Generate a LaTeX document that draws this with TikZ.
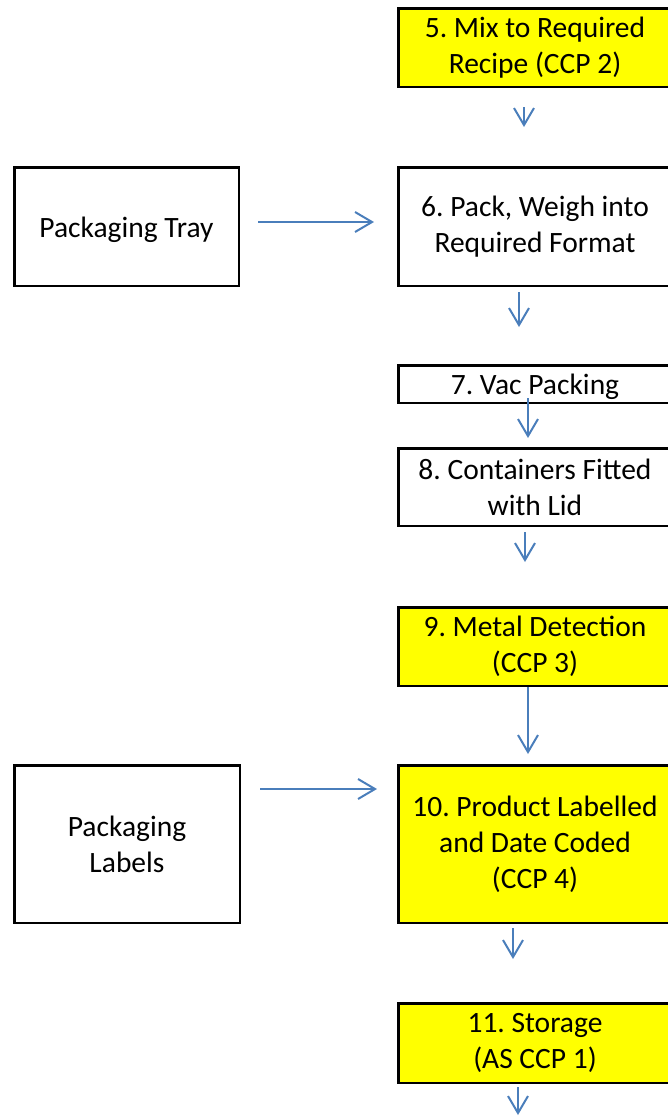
\documentclass[tikz,border=0pt]{standalone}
\usepackage{fontspec}
\setmainfont{Carlito}
\frenchspacing
\usetikzlibrary{arrows.meta}
\definecolor{arrblue}{HTML}{4A7EBB}
\definecolor{boxyellow}{HTML}{FFFF00}
\tikzset{
  box/.style={draw=black, line width=2.5pt, align=center, inner sep=0pt,
    font=\fontsize{29.5}{36}\selectfont,
    execute at begin node={\rule{0pt}{27pt}}},
  ybox/.style={box, fill=boxyellow},
  wbox/.style={box, fill=white},
  arr/.style={draw=arrblue, line width=2pt,
    -{Straight Barb[length=17pt,width=20pt,line width=2pt]}}
}
\begin{document}
\begin{tikzpicture}[x=1pt,y=-1pt]
\useasboundingbox (0,0) rectangle (668,1117);
\node[ybox, minimum width=273.5pt, minimum height=78.5pt] (n5) at (535,47.5) {5. Mix to Required\\Recipe (CCP 2)};
\node[wbox, minimum width=273.5pt, minimum height=118.5pt] (n6) at (535,226.5) {6. Pack, Weigh into\\Required Format};
\node[wbox, minimum width=224.5pt, minimum height=118.5pt] (tray) at (126.5,226.5) {Packaging Tray};
\node[wbox, minimum width=273.5pt, minimum height=37.5pt] (n7) at (535,384) {7. Vac Packing};
\node[wbox, minimum width=273.5pt, minimum height=77.5pt] (n8) at (535,487) {8. Containers Fitted\\with Lid};
\node[ybox, minimum width=273.5pt, minimum height=78.5pt] (n9) at (535,646.5) {9. Metal Detection\\(CCP 3)};
\node[ybox, minimum width=273.5pt, minimum height=157.5pt] (n10) at (535,844) {10. Product Labelled\\and Date Coded\\(CCP 4)};
\node[wbox, minimum width=225.5pt, minimum height=157.5pt] (labels) at (127,844) {Packaging\\Labels};
\node[ybox, minimum width=273.5pt, minimum height=79.5pt] (n11) at (535,1043) {11. Storage\\(AS CCP 1)};
\coordinate (end) at (518,1115);

\draw[arr, shorten <=19pt, shorten >=39pt] ([xshift=-11pt]n5.south) -- ([xshift=-11pt]n6.north);
\draw[arr, shorten <=5pt, shorten >=37pt] ([xshift=-16pt]n6.south) -- ([xshift=-16pt]n7.north);
\draw[arr, shorten <=-6pt, shorten >=9pt] ([xshift=-7pt]n7.south) -- ([xshift=-7pt]n8.north);
\draw[arr, shorten <=5pt, shorten >=44pt] ([xshift=-10pt]n8.south) -- ([xshift=-10pt]n9.north);
\draw[arr, shorten <=0pt, shorten >=10pt] ([xshift=-7pt]n9.south) -- ([xshift=-7pt]n10.north);
\draw[arr, shorten <=4pt, shorten >=43pt] ([xshift=-22pt]n10.south) -- ([xshift=-22pt]n11.north);
\draw[arr, shorten <=3pt] ([xshift=-17pt]n11.south) -- (end);
\draw[arr, shorten <=18pt, shorten >=23pt] ([yshift=4.5pt]tray.east) -- ([yshift=4.5pt]n6.west);
\draw[arr, shorten <=19pt, shorten >=20pt] ([yshift=55pt]labels.east) -- ([yshift=55pt]n10.west);
\end{tikzpicture}
\end{document}
